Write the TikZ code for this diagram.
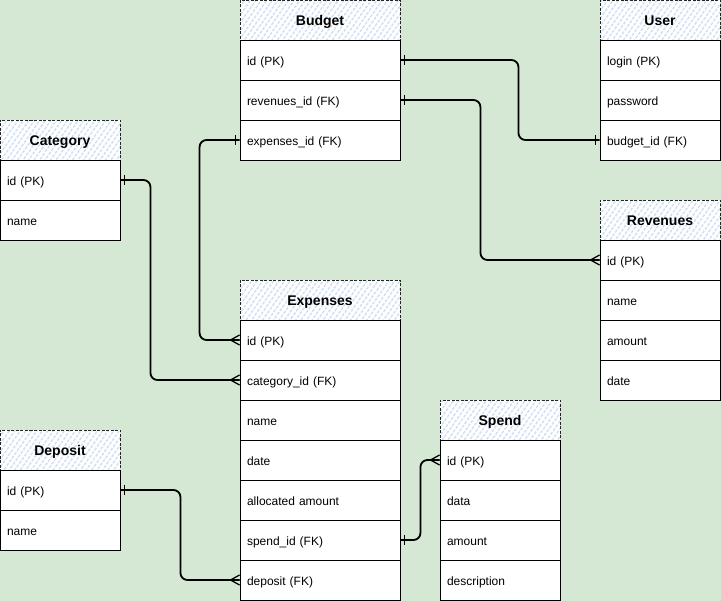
\documentclass[tikz,border=0pt]{standalone}
\usepackage{fontspec}
\setmainfont{Liberation Sans}
\usetikzlibrary{patterns.meta}
\definecolor{bggreen}{HTML}{D5E8D4}
\definecolor{hatchblue}{HTML}{CFDFF5}
\tikzset{
  hdr/.style={draw=black!85, line width=0.9pt, dash pattern=on 3pt off 1.5pt,
    preaction={fill=white},
    pattern={Lines[angle=55,distance=4.5pt,line width=1.4pt]}, pattern color=hatchblue,
    minimum width=#1, minimum height=40pt, inner sep=0pt,
    text height=12pt, text depth=0pt,
    font=\bfseries\fontsize{14}{16}\selectfont},
  row/.style={draw=black, line width=0.9pt, fill=white, minimum height=40pt,
    text width=#1, inner xsep=7pt, inner ysep=0pt, align=left,
    text height=11.5pt, text depth=0pt,
    font=\fontsize{12}{14}\selectfont},
  conn/.style={draw=black, line width=1.8pt, rounded corners=7pt},
  one/.pic={\draw[line width=1.5pt] (0,-5) -- (0,5);},
  crow/.pic={\draw[line width=1.3pt] (-9,0) -- (0,-5) (-9,0) -- (0,0) (-9,0) -- (0,5);}
}
\begin{document}
\begin{tikzpicture}[x=1pt,y=-1pt]
\fill[bggreen] (0,0) rectangle (721,601);
\useasboundingbox (0,0) rectangle (721,601);

% Budget
\node[hdr=160pt] (bh) at (320,20) {Budget};
\node[row=146pt] (b1) at (320,60) {id (PK)};
\node[row=146pt] (b2) at (320,100) {revenues\_id (FK)};
\node[row=146pt] (b3) at (320,140) {expenses\_id (FK)};

% User
\node[hdr=120pt] (uh) at (660,20) {User};
\node[row=106pt] (u1) at (660,60) {login (PK)};
\node[row=106pt] (u2) at (660,100) {password};
\node[row=106pt] (u3) at (660,140) {budget\_id (FK)};

% Category
\node[hdr=120pt] (ch) at (60,140) {Category};
\node[row=106pt] (c1) at (60,180) {id (PK)};
\node[row=106pt] (c2) at (60,220) {name};

% Revenues
\node[hdr=120pt] (rh) at (660,220) {Revenues};
\node[row=106pt] (r1) at (660,260) {id (PK)};
\node[row=106pt] (r2) at (660,300) {name};
\node[row=106pt] (r3) at (660,340) {amount};
\node[row=106pt] (r4) at (660,380) {date};

% Expenses
\node[hdr=160pt] (eh) at (320,300) {Expenses};
\node[row=146pt] (e1) at (320,340) {id (PK)};
\node[row=146pt] (e2) at (320,380) {category\_id (FK)};
\node[row=146pt] (e3) at (320,420) {name};
\node[row=146pt] (e4) at (320,460) {date};
\node[row=146pt] (e5) at (320,500) {allocated amount};
\node[row=146pt] (e6) at (320,540) {spend\_id (FK)};
\node[row=146pt] (e7) at (320,580) {deposit (FK)};

% Deposit
\node[hdr=120pt] (dh) at (60,450) {Deposit};
\node[row=106pt] (d1) at (60,490) {id (PK)};
\node[row=106pt] (d2) at (60,530) {name};

% Spend
\node[hdr=120pt] (sh) at (500,420) {Spend};
\node[row=106pt] (s1) at (500,460) {id (PK)};
\node[row=106pt] (s2) at (500,500) {data};
\node[row=106pt] (s3) at (500,540) {amount};
\node[row=106pt] (s4) at (500,580) {description};

% Connectors
\draw[conn] (b1.east) -- ++(118,0) |- (u3.west);
\draw[conn] (b2.east) -- ++(80,0) |- (r1.west);
\draw[conn] (b3.west) -- ++(-40,0) |- (e1.west);
\draw[conn] (c1.east) -- ++(30,0) |- (e2.west);
\draw[conn] (d1.east) -- ++(60,0) |- (e7.west);
\draw[conn] (e6.east) -- ++(20,0) |- (s1.west);

% Ends
\path (b1.east) ++(4,0) pic {one};
\path (u3.west) ++(-4,0) pic {one};
\path (b2.east) ++(4,0) pic {one};
\path (r1.west) pic {crow};
\path (b3.west) ++(-4,0) pic {one};
\path (e1.west) pic {crow};
\path (c1.east) ++(4,0) pic {one};
\path (e2.west) pic {crow};
\path (d1.east) ++(4,0) pic {one};
\path (e7.west) pic {crow};
\path (e6.east) ++(4,0) pic {one};
\path (s1.west) pic {crow};
\end{tikzpicture}
\end{document}
